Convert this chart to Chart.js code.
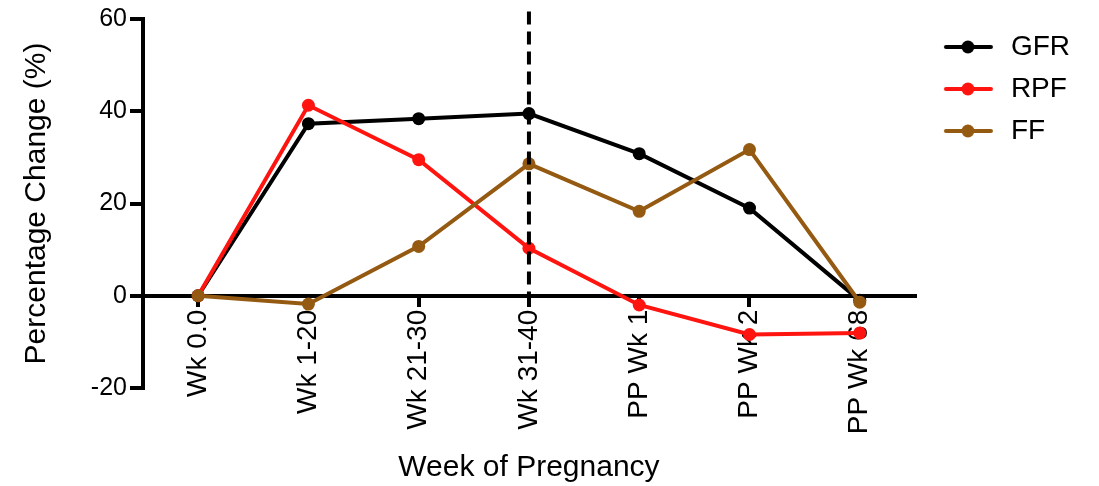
<!DOCTYPE html>
<html>
<head>
<meta charset="utf-8">
<script src="https://cdn.jsdelivr.net/npm/chart.js@4.4.1/dist/chart.umd.min.js"></script>
<style>
  body { margin: 0; background: #fff; }
  canvas { display: block; }
</style>
</head>
<body>
<canvas id="renalChart" width="1099" height="486"></canvas>
<script>
const weeks = ["Wk 0.0", "Wk 1-20", "Wk 21-30", "Wk 31-40", "PP Wk 1", "PP Wk 2", "PP Wk 68"];
const gfrValues = [0, 37.3, 38.4, 39.5, 30.8, 19.0, -1.0];
const rpfValues = [0, 41.3, 29.5, 10.3, -2.0, -8.4, -8.1];
const ffValues = [0, -1.8, 10.7, 28.6, 18.3, 31.7, -1.4];
const yTicks = [-20, 0, 20, 40, 60];

// dashed marker at end of pregnancy
const dividerWeek = "Wk 31-40";
const dividerRange = [61.6, 0];

const FONT = "'Liberation Sans', Arial, Helvetica, sans-serif";

// legend sample: short line with a dot
function legendSample(color) {
    const c = document.createElement("canvas");
    c.width = 68;
    c.height = 16;
    const ctx = c.getContext("2d");
    ctx.strokeStyle = color;
    ctx.lineWidth = 4;
    ctx.lineCap = "round";
    ctx.beginPath();
    ctx.moveTo(17, 8);
    ctx.lineTo(62, 8);
    ctx.stroke();
    ctx.fillStyle = color;
    ctx.beginPath();
    ctx.arc(39, 8, 6.5, 0, Math.PI * 2);
    ctx.fill();
    return c;
}

function series(label, data, color, order) {
    return {
        label: label,
        data: data,
        borderColor: color,
        backgroundColor: color,
        borderWidth: 4,
        pointRadius: 6.5,
        pointBorderWidth: 0,
        pointHoverRadius: 6.5,
        tension: 0,
        order: order
    };
}

const datasets = [
    series("GFR", gfrValues, "#000000", 3),
    series("RPF", rpfValues, "#ff1410", 2),
    series("FF", ffValues, "#955a12", 1),
    {
        label: "divider",
        data: dividerRange.map(v => ({x: dividerWeek, y: v})),
        borderColor: "#000000",
        borderWidth: 4,
        borderDash: [13, 7],
        pointRadius: 0,
        clip: false,
        order: 0
    }
];

new Chart("renalChart", {
    type: "line",
    data: { labels: weeks, datasets: datasets },
    options: {
        responsive: false,
        animation: false,
        events: [],
        layout: { padding: { top: 19, right: 19, bottom: 0, left: 0 } },
        scales: {
            x: {
                type: "category",
                offset: true,
                position: { y: 0 },
                grid: { display: true, drawOnChartArea: false, drawTicks: true, tickLength: 9, color: "#000", lineWidth: 4 },
                border: { display: true, color: "#000", width: 4 },
                ticks: {
                    color: "#000",
                    font: { family: FONT, size: 28 },
                    minRotation: 90,
                    maxRotation: 90,
                    autoSkip: false,
                    padding: 5
                }
            },
            y: {
                min: -20,
                max: 60,
                afterBuildTicks: function(scale) { scale.ticks = yTicks.map(v => ({value: v})); },
                afterFit: function(scale) { scale.width = 143; },
                grid: { display: true, drawOnChartArea: false, drawTicks: true, tickLength: 13, color: "#000", lineWidth: 4 },
                border: { display: true, color: "#000", width: 4 },
                ticks: { color: "#000", font: { family: FONT, size: 25 }, padding: 3 },
                title: {
                    display: true,
                    text: "Percentage Change (%)",
                    color: "#000",
                    font: { family: FONT, size: 30 },
                    padding: { top: 19, bottom: 0 }
                }
            }
        },
        plugins: {
            tooltip: { enabled: false },
            title: {
                display: true,
                position: "bottom",
                fullSize: false,
                text: "Week of Pregnancy",
                color: "#000",
                font: { family: FONT, size: 30, weight: "normal" },
                padding: { top: 62, bottom: 0 }
            },
            legend: {
                position: "right",
                align: "start",
                labels: {
                    usePointStyle: true,
                    pointStyleWidth: 68,
                    padding: 14,
                    color: "#000",
                    font: { family: FONT, size: 28 },
                    generateLabels: function(chart) {
                        return chart.data.datasets.slice(0, 3).map((ds, i) => ({
                            text: ds.label,
                            fontColor: "#000",
                            pointStyle: legendSample(ds.borderColor),
                            lineWidth: 0,
                            hidden: false,
                            datasetIndex: i
                        }));
                    }
                }
            }
        }
    }
});
</script>
</body>
</html>
